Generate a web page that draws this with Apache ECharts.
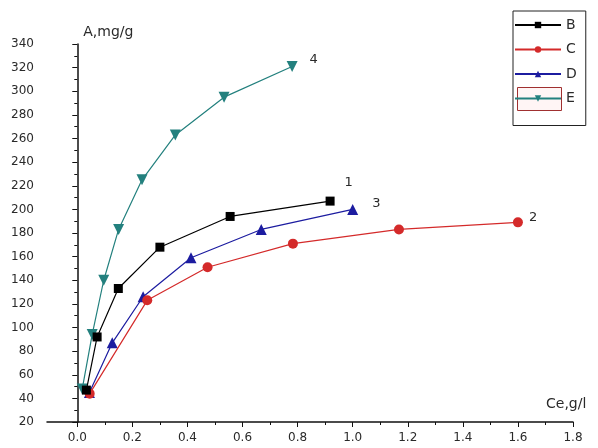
<!DOCTYPE html>
<html>
<head>
<meta charset="utf-8">
<script src="https://cdn.jsdelivr.net/npm/echarts@6/dist/echarts.min.js"></script>
<style>
  html, body { margin: 0; padding: 0; background: #fff; }
  #chart { width: 598px; height: 448px; }
</style>
</head>
<body>
<div id="chart"></div>
<script>
// isotherm points: [Ce, A]
const seriesB = [[0.033, 47], [0.072, 92], [0.149, 133], [0.30, 168], [0.555, 194], [0.918, 207]]
const seriesC = [[0.045, 44], [0.254, 123], [0.473, 151], [0.783, 171], [1.168, 183], [1.60, 189]]
const seriesD = [[0.044, 45], [0.127, 87], [0.239, 126], [0.413, 159], [0.668, 183], [1.0, 200]]
const seriesE = [[0.018, 48], [0.054, 94], [0.096, 140], [0.15, 183], [0.235, 225], [0.356, 263], [0.533, 295], [0.78, 321]]

const seriesNames = ['B', 'C', 'D', 'E']
const curveLabels = ['1', '2', '3', '4']
const xMajorTicks = [0, 0.2, 0.4, 0.6, 0.8, 1.0, 1.2, 1.4, 1.6, 1.8]
const xMinorTicks = [0.1, 0.3, 0.5, 0.7, 0.9, 1.1, 1.3, 1.5, 1.7]

const chart = echarts.init(document.getElementById('chart'))

const font = 'DejaVu Sans, Verdana, sans-serif'
const textColor = '#2a2a2a'

// put the curve number next to the last point
const withEndLabel = (points, text, offset) =>
  points.map((p, i) => i === points.length - 1
    ? { value: p, label: { show: true, formatter: text, position: 'right', offset, fontFamily: font, fontSize: 13, color: textColor } }
    : p)

const styles = [
  { color: '#000000', symbol: 'rect', size: 9, offset: [5, -18] },
  { color: '#d42a2a', symbol: 'circle', size: 10, offset: [1, -5] },
  { color: '#1c1ca0', symbol: 'triangle', size: 11, offset: [9, -6] },
  { color: '#23807e', symbol: 'path://M0,0 L10,0 L5,10 Z', size: 11, offset: [7, -7] }
]
const allData = [seriesB, seriesC, seriesD, seriesE]

const option = {
  animation: false,
  grid: { left: 47, top: 44, width: 526, height: 378 },
  legend: {
    orient: 'vertical',
    left: 513,
    top: 11,
    padding: [7, 9, 20, 1],
    itemWidth: 46,
    itemHeight: 8,
    itemGap: 10.5,
    borderColor: '#222',
    borderWidth: 1,
    textStyle: { fontFamily: font, fontSize: 14, color: textColor },
    data: seriesNames
  },
  xAxis: [
    {
      type: 'value',
      min: -0.11,
      max: 1.8,
      axisLine: { lineStyle: { color: '#111', width: 1.5 } },
      axisTick: { customValues: xMajorTicks, length: 5, lineStyle: { color: '#111' } },
      axisLabel: {
        customValues: xMajorTicks,
        margin: 10,
        fontFamily: font,
        fontSize: 12,
        color: textColor,
        formatter: v => v.toFixed(1)
      },
      splitLine: { show: false }
    },
    {
      type: 'value',
      min: -0.11,
      max: 1.8,
      position: 'bottom',
      axisLine: { show: false },
      axisTick: { customValues: xMinorTicks, length: 3, lineStyle: { color: '#111' } },
      axisLabel: { show: false },
      splitLine: { show: false }
    }
  ],
  yAxis: {
    type: 'value',
    min: 20,
    max: 340,
    interval: 20,
    name: 'A,mg/g',
    nameGap: 5,
    nameTextStyle: { align: 'left', padding: [0, 0, 0, 6], fontFamily: font, fontSize: 14, color: textColor },
    axisLine: { lineStyle: { color: '#111', width: 1.5 } },
    axisTick: { length: 5, lineStyle: { color: '#111' } },
    minorTick: { show: true, splitNumber: 2, length: 3, lineStyle: { color: '#111' } },
    axisLabel: { margin: 13, fontFamily: font, fontSize: 12, color: textColor },
    splitLine: { show: false }
  },
  graphic: [
    {
      type: 'text',
      left: 546,
      top: 397,
      style: { text: 'Ce,g/l', fontFamily: font, fontSize: 14, fill: textColor }
    },
    {
      // Origin's selection frame round the E legend symbol
      type: 'rect',
      left: 517,
      top: 87,
      z: 0,
      shape: { width: 44, height: 23 },
      style: { fill: 'rgba(255,200,200,0.18)', stroke: '#a03030', lineWidth: 1 }
    }
  ],
  series: allData.map((d, i) => ({
    name: seriesNames[i],
    type: 'line',
    data: withEndLabel(d, curveLabels[i], styles[i].offset),
    symbol: styles[i].symbol,
    symbolSize: styles[i].size,
    showAllSymbol: true,
    color: styles[i].color,
    lineStyle: { color: styles[i].color, width: 1.2 },
    itemStyle: { color: styles[i].color },
    z: 4 - i
  }))
}

chart.setOption(option)
window.addEventListener('resize', () => chart.resize())
</script>
</body>
</html>
